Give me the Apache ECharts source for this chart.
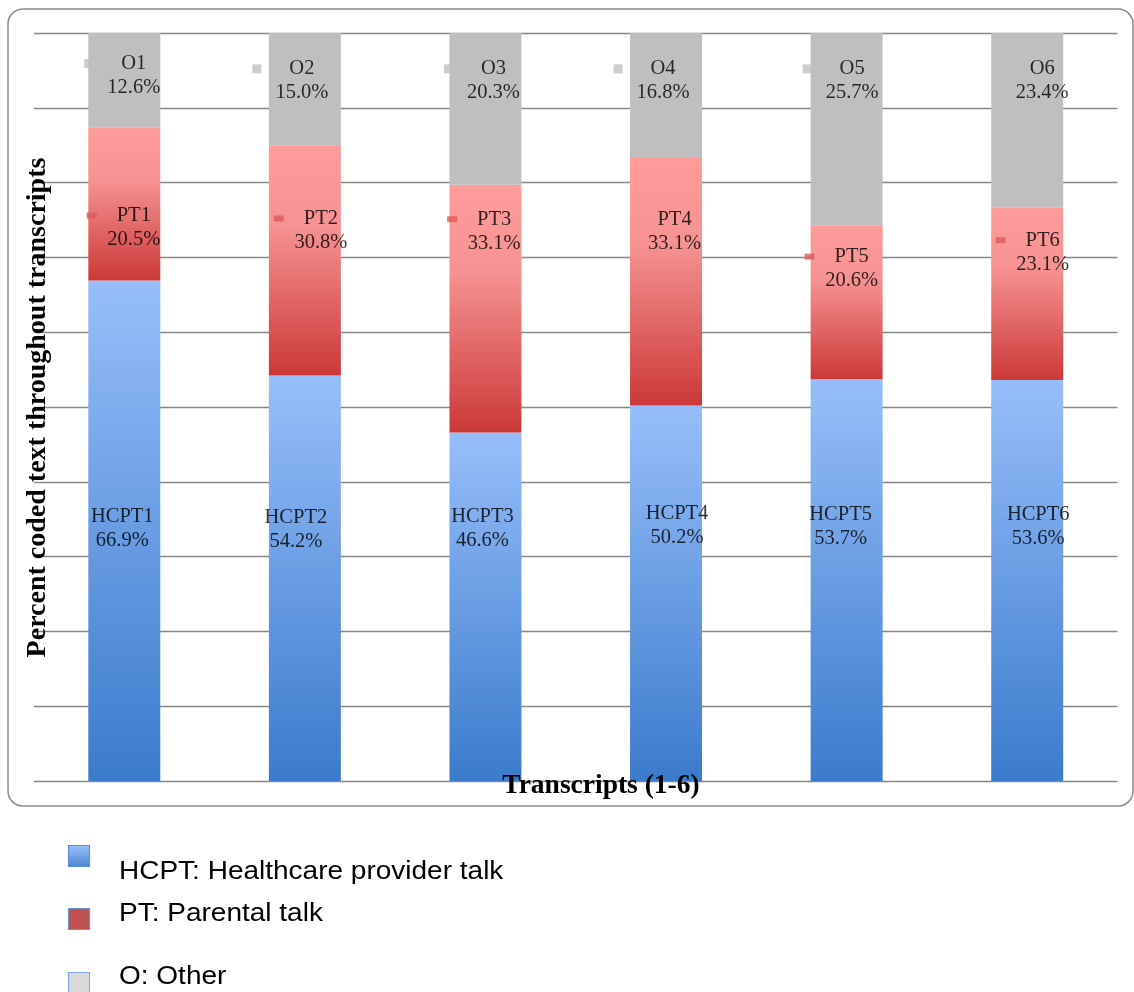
<!DOCTYPE html>
<html>
<head>
<meta charset="utf-8">
<script src="https://cdn.jsdelivr.net/npm/echarts@6/dist/echarts.min.js"></script>
<style>
  html, body { margin: 0; padding: 0; background: #fff; }
  #chart { width: 1134px; height: 992px; }
</style>
</head>
<body>
<div id="chart"></div>
<script>
// Transcripts 1-6
const categories = ['1', '2', '3', '4', '5', '6'];
// Share of coded text per transcript (%)
const hcpt  = [66.9, 54.2, 46.6, 50.2, 53.7, 53.6];   // Healthcare provider talk
const pt    = [20.5, 30.8, 33.1, 33.1, 20.6, 23.1];   // Parental talk
const other = [12.6, 15.0, 20.3, 16.8, 25.7, 23.4];   // Other

// Label placement: anchor height on the value axis and horizontal nudge (px)
const levelHCPT = [33.7, 33.6, 33.7, 34.2, 34.0, 34.0];
const levelPT   = [74.0, 73.6, 73.5, 73.5, 68.5, 70.7];
const levelO    = [94.3, 93.6, 93.6, 93.6, 93.6, 93.6];
const nudgeHCPT = [-2, -9, -3, 11, -6, 11];
const nudgePT   = [9.5, 16, 8.7, 8.5, 5, 15.5];
const nudgeO    = [9.5, -3, 8, -3, 5.5, 15];
// which callouts carry a small legend key
const keyPT = [true, true, true, false, true, true];
const keyO  = [true, true, true, true, true, false];

const SERIF = '"Liberation Serif", "Times New Roman", serif';
const SANS = '"Liberation Sans", Arial, Helvetica, sans-serif';

const grad = (stops) => new echarts.graphic.LinearGradient(0, 0, 0, 1,
  stops.map(([offset, color]) => ({ offset, color })));

const blueFill = () => grad([[0, '#97BEFA'], [1, '#3B7BCC']]);
const redFill = () => grad([[0, '#FE9B9B'], [0.35, '#F69292'], [1, '#CC3838']]);
const grayFill = '#BFBFBF';

const LABEL_SIZE = 20.5;
const richBase = {
  n: { fontFamily: SERIF, fontSize: LABEL_SIZE, color: '#000', lineHeight: 24 },
  v: { fontFamily: SERIF, fontSize: LABEL_SIZE, color: '#000', lineHeight: 24 },
  ko: { width: 9, height: 9, backgroundColor: '#BFBFBF', lineHeight: 24 },
  kp: { width: 10, height: 6, backgroundColor: '#DE5A5A', lineHeight: 24 },
  go: { width: 28, lineHeight: 24 },
  gp: { width: 20, lineHeight: 24 },
  bo: { width: 37, lineHeight: 24 },
  bp: { width: 30, lineHeight: 24 }
};

function labelSeries(name, prefix, values, levels, nudges, keys, keyTag) {
  return {
    type: 'scatter',
    name: name + ' labels',
    z: 5,
    silent: true,
    symbolSize: 1,
    itemStyle: { color: 'rgba(0,0,0,0)' },
    data: values.map((v, i) => ({
      value: [i, levels[i]],
      label: { offset: [nudges[i], 0] }
    })),
    label: {
      show: true,
      position: 'inside',
      align: 'center',
      verticalAlign: 'middle',
      rich: richBase,
      formatter: (p) => {
        const i = p.dataIndex;
        const nm = '{n|' + prefix + (i + 1) + '}';
        const head = keys && keys[i]
          ? '{k' + keyTag + '|}{g' + keyTag + '|}' + nm + '{b' + keyTag + '|}'
          : nm;
        return head + '\n{v|' + values[i].toFixed(1) + '%}';
      }
    }
  };
}

function legendText(text, y) {
  return {
    type: 'text', silent: true, x: 119, y: y, scaleX: 1.12,
    style: { text: text, fontFamily: SANS, fontSize: 25, fill: '#000', align: 'left', verticalAlign: 'middle' }
  };
}

const chart = echarts.init(document.getElementById('chart'));

chart.setOption({
  animation: false,
  backgroundColor: '#fff',
  grid: { left: 34, right: 16.5, top: 33, bottom: 211 },
  xAxis: {
    type: 'category',
    data: categories,
    axisLine: { show: false },
    axisTick: { show: false },
    axisLabel: { show: false }
  },
  yAxis: {
    type: 'value',
    min: 0,
    max: 100,
    interval: 10,
    axisLine: { show: false },
    axisTick: { show: false },
    axisLabel: { show: false },
    splitLine: { lineStyle: { color: '#878787', width: 1.3 } }
  },
  series: [
    {
      type: 'bar', name: 'HCPT', stack: 'total', barWidth: 72,
      itemStyle: { color: blueFill() },
      data: hcpt
    },
    {
      type: 'bar', name: 'PT', stack: 'total', barWidth: 72,
      itemStyle: { color: redFill() },
      data: pt
    },
    {
      type: 'bar', name: 'O', stack: 'total', barWidth: 72,
      itemStyle: { color: grayFill },
      data: other
    },
    labelSeries('HCPT', 'HCPT', hcpt, levelHCPT, nudgeHCPT, null, ''),
    labelSeries('PT', 'PT', pt, levelPT, nudgePT, keyPT, 'p'),
    labelSeries('O', 'O', other, levelO, nudgeO, keyO, 'o')
  ],
  graphic: [
    // rounded frame around the plot
    {
      type: 'rect', z: 0, silent: true,
      shape: { x: 8, y: 9, width: 1125, height: 797, r: 15 },
      style: { fill: 'none', stroke: '#8a8a8a', lineWidth: 1.5 }
    },
    // axis titles
    {
      type: 'text', z: 10, silent: true,
      x: 38, y: 407.5, rotation: Math.PI / 2,
      style: {
        text: 'Percent coded text throughout transcripts',
        fontFamily: SERIF, fontSize: 28, fontWeight: 'bold', fill: '#000',
        align: 'center', verticalAlign: 'middle'
      }
    },
    {
      type: 'text', z: 10, silent: true,
      x: 601, y: 786,
      style: {
        text: 'Transcripts (1-6)',
        fontFamily: SERIF, fontSize: 27.5, fontWeight: 'bold', fill: '#000',
        align: 'center', verticalAlign: 'middle'
      }
    },
    // legend
    {
      type: 'rect', silent: true,
      shape: { x: 68.5, y: 845.5, width: 21, height: 21 },
      style: { fill: grad([[0, '#9CC0F7'], [1, '#4A86D2']]), stroke: '#5F8FD3', lineWidth: 1.2 }
    },
    legendText('HCPT: Healthcare provider talk', 872),
    {
      type: 'rect', silent: true,
      shape: { x: 68.5, y: 908.5, width: 21, height: 21 },
      style: { fill: '#C0504D', stroke: '#6E93CF', lineWidth: 1.2 }
    },
    legendText('PT: Parental talk', 914.5),
    {
      type: 'rect', silent: true,
      shape: { x: 68.5, y: 972.5, width: 21, height: 21 },
      style: { fill: '#D9D9D9', stroke: '#86A8DA', lineWidth: 1.2 }
    },
    legendText('O: Other', 977.5)
  ]
});
</script>
</body>
</html>
